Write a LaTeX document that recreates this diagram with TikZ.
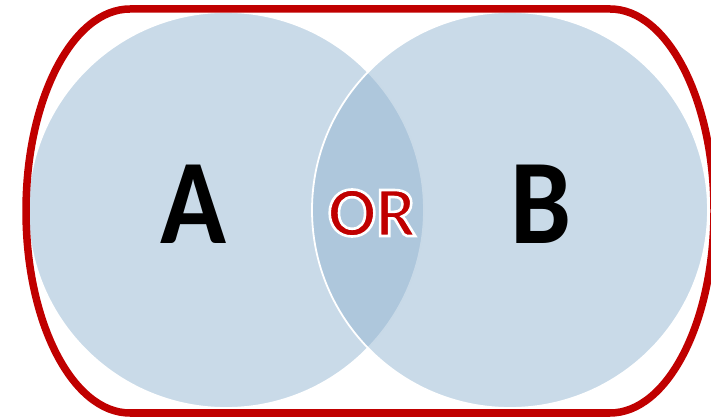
\documentclass[tikz,border=0pt]{standalone}
\usepackage{fontspec}
\setmainfont{Carlito}
\newfontfamily\letterfont[FakeStretch=0.9]{Carlito}
\definecolor{cSet}{HTML}{93B5D1}
\definecolor{cRing}{HTML}{C00000}
\definecolor{cInk}{HTML}{000000}
\newcommand{\halo}[1]{\special{pdf:literal direct 2 Tr 2.6 w 1 1 1 RG}#1\special{pdf:literal direct 0 Tr}}
\tikzset{
  every picture/.style={line width=0.5pt},
  setc/.style={circle, minimum size=396pt, inner sep=0pt, fill=cSet, fill opacity=0.5,
               draw=white, draw opacity=1, line width=1.8pt},
  letter/.style={font=\letterfont\fontsize{121}{121}\selectfont\bfseries, text=cInk, inner sep=0pt},
  oplabel/.style={font=\fontsize{71}{71}\selectfont\bfseries, text=cRing, inner sep=0pt},
  ring/.style={draw=cRing, line width=7.5pt},
}
\begin{document}
\begin{tikzpicture}[x=1pt,y=1pt]
\useasboundingbox (0,0) rectangle (711,417);

\def\rx{104}
\def\ry{202}

% ---------------------------------------------------------------- the two sets
\node[setc] (setA) at (226,207) {};
\node[setc] (setB) at (510,207) {};

\node[letter] (labA) at (193,213) {A};
\node[letter] (labB) at (541,213) {B};
\node[oplabel] (labOr) at (372,204) {\halo{OR}};

% ---------------------------------------------------------------- the outline
\draw[ring] (130,408) -- (610,408)
  arc[start angle=90, end angle=-90, x radius=\rx, y radius=\ry] -- (130,4)
  arc[start angle=270, end angle=90, x radius=\rx, y radius=\ry] -- cycle;

\end{tikzpicture}
\end{document}
